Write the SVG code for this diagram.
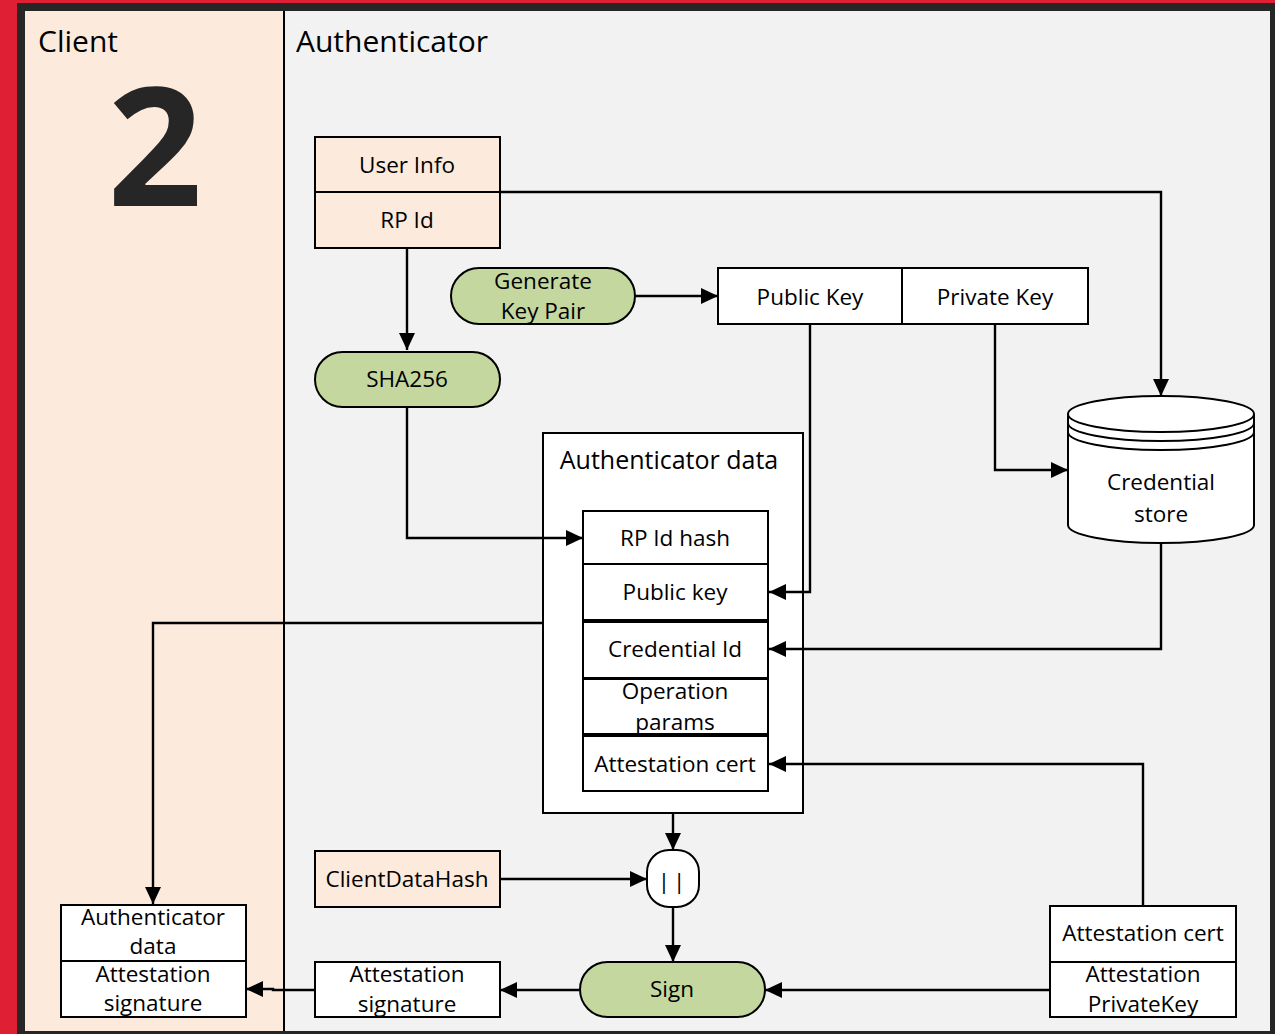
<svg xmlns="http://www.w3.org/2000/svg" width="1275" height="1034" viewBox="0 0 1275 1034">
<style>
.t{font-family:"Open Sans","Noto Sans","Liberation Sans",sans-serif;font-size:22.5px;fill:#000;text-anchor:middle}
.t.title{font-size:25px}
.lane{font-family:"Open Sans","Noto Sans",sans-serif;font-size:30px;fill:#000}
.box{stroke:#000;stroke-width:2}
.w{fill:#fff}
.p{fill:#FCEADC}
.g{fill:#C4D79F}
.c{fill:none;stroke:#000;stroke-width:2.4}
</style>
<defs>
<marker id="ah" markerUnits="userSpaceOnUse" markerWidth="18" markerHeight="16" refX="17" refY="8" orient="auto">
<path d="M0,0 L17,8 L0,16 z" fill="#000"/>
</marker>
</defs>
<rect x="0" y="0" width="1275" height="1034" fill="#DF1F33"/>
<rect x="17" y="3" width="1258" height="1031" fill="#262626"/>
<g id="lane-client">
<rect x="25" y="11" width="258" height="1020" fill="#FCEADC"/>
<text class="lane" x="38" y="52">Client</text>
<text x="155" y="206" font-family="'Open Sans','Noto Sans',sans-serif" font-weight="bold" font-size="166" fill="#262626" text-anchor="middle">2</text>
</g>
<g id="lane-authenticator">
<rect x="284" y="11" width="986" height="1020" fill="#F2F2F2"/>
<text class="lane" x="296" y="52">Authenticator</text>
</g>
<line x1="284" y1="11" x2="284" y2="1031" stroke="#000" stroke-width="2"/>

<g id="user-info">
<rect class="box p" x="315" y="137" width="185" height="55"/>
<text class="t" x="407" y="173">User Info</text>
</g>
<g id="rp-id">
<rect class="box p" x="315" y="192" width="185" height="56"/>
<text class="t" x="407" y="228">RP Id</text>
</g>
<g id="sha256">
<rect class="box g" x="315" y="352" width="185" height="55" rx="27.5"/>
<text class="t" x="407" y="387">SHA256</text>
</g>
<g id="generate-key-pair">
<rect class="box g" x="451" y="268" width="184" height="56" rx="28"/>
<text class="t" x="543" y="289">Generate</text>
<text class="t" x="543" y="319">Key Pair</text>
</g>
<g id="public-key">
<rect class="box w" x="718" y="268" width="184" height="56"/>
<text class="t" x="810" y="305">Public Key</text>
</g>
<g id="private-key">
<rect class="box w" x="902" y="268" width="186" height="56"/>
<text class="t" x="995" y="305">Private Key</text>
</g>
<g id="credential-store">
<path class="box w" d="M1068,414 V525 A93,18 0 0 0 1254,525 V414"/>
<ellipse class="box w" cx="1161" cy="414" rx="93" ry="18"/>
<path class="box" fill="none" d="M1068,423 A93,18 0 0 0 1254,423 M1068,432 A93,18 0 0 0 1254,432"/>
<text class="t" x="1161" y="490">Credential</text>
<text class="t" x="1161" y="522">store</text>
</g>
<g id="authenticator-data">
<rect class="box w" x="543" y="433" width="260" height="380"/>
<text class="t title" x="669" y="469">Authenticator data</text>
<rect class="box w" x="583" y="511" width="185" height="53"/>
<text class="t" x="675" y="546">RP Id hash</text>
<rect class="box w" x="583" y="564" width="185" height="56"/>
<text class="t" x="675" y="600">Public key</text>
<rect class="box w" x="583" y="622" width="185" height="56"/>
<text class="t" x="675" y="657">Credential Id</text>
<rect class="box w" x="583" y="679" width="185" height="55"/>
<text class="t" x="675" y="699">Operation</text>
<text class="t" x="675" y="730">params</text>
<rect class="box w" x="583" y="736" width="185" height="55"/>
<text class="t" x="675" y="772">Attestation cert</text>
</g>
<g id="client-data-hash">
<rect class="box p" x="315" y="851" width="185" height="56"/>
<text class="t" x="407" y="887">ClientDataHash</text>
</g>
<g id="concat">
<rect class="box w" x="647" y="850" width="52" height="57" rx="22"/>
<text class="t" x="673" y="889" letter-spacing="3">||</text>
</g>
<g id="sign">
<rect class="box g" x="580" y="962" width="185" height="55" rx="27.5"/>
<text class="t" x="672" y="997">Sign</text>
</g>
<g id="attestation-signature">
<rect class="box w" x="315" y="962" width="185" height="55"/>
<text class="t" x="407" y="982">Attestation</text>
<text class="t" x="407" y="1012">signature</text>
</g>
<g id="attestation-keys">
<rect class="box w" x="1050" y="906" width="186" height="56"/>
<text class="t" x="1143" y="941">Attestation cert</text>
<rect class="box w" x="1050" y="962" width="186" height="55"/>
<text class="t" x="1143" y="982">Attestation</text>
<text class="t" x="1143" y="1012">PrivateKey</text>
</g>
<g id="client-output">
<rect class="box w" x="61" y="905" width="185" height="56"/>
<text class="t" x="153" y="925">Authenticator</text>
<text class="t" x="153" y="954">data</text>
<rect class="box w" x="61" y="961" width="185" height="56"/>
<text class="t" x="153" y="982">Attestation</text>
<text class="t" x="153" y="1011">signature</text>
</g>

<g id="connectors" class="c">
<path d="M407,248 V350" marker-end="url(#ah)"/>
<path d="M500,192 H1161 V396" marker-end="url(#ah)"/>
<path d="M635,296 H718" marker-end="url(#ah)"/>
<path d="M810,324 V592 H769" marker-end="url(#ah)"/>
<path d="M995,324 V470 H1068" marker-end="url(#ah)"/>
<path d="M407,407 V538 H583" marker-end="url(#ah)"/>
<path d="M1161,543 V649 H769" marker-end="url(#ah)"/>
<path d="M1143,906 V764 H769" marker-end="url(#ah)"/>
<path d="M543,623 H153 V904" marker-end="url(#ah)"/>
<path d="M673,813 V850" marker-end="url(#ah)"/>
<path d="M500,879 H647" marker-end="url(#ah)"/>
<path d="M673,907 V962" marker-end="url(#ah)"/>
<path d="M1050,990 H765" marker-end="url(#ah)"/>
<path d="M579,990 H500" marker-end="url(#ah)"/>
<path d="M314,990 H273 V989 H246" marker-end="url(#ah)"/>
</g>
</svg>
